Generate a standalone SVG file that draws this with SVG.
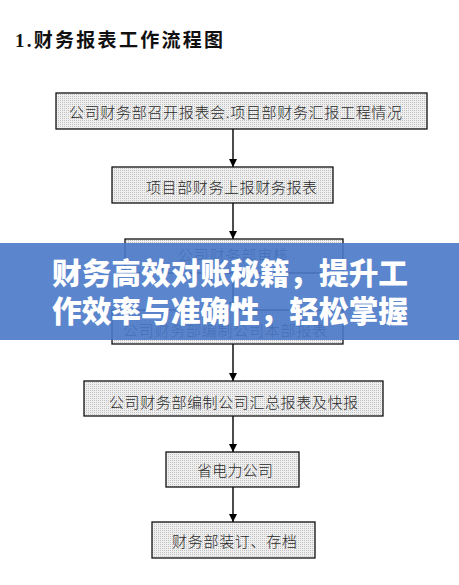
<svg xmlns="http://www.w3.org/2000/svg" width="459" height="585" viewBox="0 0 459 585">
<style>
.box{fill:url(#dots);stroke:#111;stroke-width:1.3}
.lbl{font-family:"Noto Sans CJK SC","Noto Sans",sans-serif;font-weight:300;font-size:15px;fill:#2a2a2a}
.edge{stroke:#000;stroke-width:1.4;fill:none;marker-end:url(#arr)}
.title{font-family:"Liberation Serif","Noto Sans CJK SC",serif;font-weight:bold;font-size:19px;fill:#111}
.ban{font-family:"Noto Sans CJK SC",sans-serif;font-weight:900;font-size:29.7px;fill:#fff}
</style>
<defs>
<pattern id="dots" width="2" height="2" patternUnits="userSpaceOnUse">
<rect width="2" height="2" fill="#efefef"/>
<rect width="1" height="1" fill="#c2c2c2"/>
</pattern>
<marker id="arr" viewBox="0 0 10 10" refX="10" refY="5" markerWidth="8" markerHeight="8" markerUnits="userSpaceOnUse" orient="auto">
<path d="M0,0 L10,5 L0,10 z" fill="#000"/>
</marker>
</defs>
<rect width="459" height="585" fill="#fff"/>
<text class="title" x="15" y="47" textLength="208" lengthAdjust="spacing">1.财务报表工作流程图</text>
<g id="connectors">
<line class="edge" x1="233" y1="129" x2="233" y2="167"/>
<line class="edge" x1="233" y1="203" x2="233" y2="239"/>
<line class="edge" x1="233" y1="273" x2="233" y2="310"/>
<line class="edge" x1="233" y1="344" x2="233" y2="381"/>
<line class="edge" x1="233" y1="416" x2="233" y2="452"/>
<line class="edge" x1="233" y1="487" x2="233" y2="522"/>
</g>
<g id="n1"><rect class="box" x="56" y="93" width="371" height="36"/><text class="lbl" x="69" y="117.5" textLength="333" lengthAdjust="spacing">公司财务部召开报表会.项目部财务汇报工程情况</text></g>
<g id="n2"><rect class="box" x="112" y="167" width="221" height="36"/><text class="lbl" x="146" y="192.5" textLength="171" lengthAdjust="spacing">项目部财务上报财务报表</text></g>
<g id="n3"><rect class="box" x="125" y="239" width="218" height="34"/><text class="lbl" x="178" y="260.5" textLength="110" lengthAdjust="spacing">公司财务部审核</text></g>
<g id="n4"><rect class="box" x="112" y="310" width="231" height="34"/><text class="lbl" x="123" y="335.5" textLength="204" lengthAdjust="spacing">公司财务部编制公司本部报表</text></g>
<g id="n5"><rect class="box" x="84" y="381" width="299" height="35"/><text class="lbl" x="109" y="407.5" textLength="249" lengthAdjust="spacing">公司财务部编制公司汇总报表及快报</text></g>
<g id="n6"><rect class="box" x="166" y="452" width="133" height="35"/><text class="lbl" x="197" y="475.5" textLength="76" lengthAdjust="spacing">省电力公司</text></g>
<g id="n7"><rect class="box" x="152" y="522" width="163" height="36"/><text class="lbl" x="172" y="546.5" textLength="125" lengthAdjust="spacing">财务部装订、存档</text></g>
<g id="banner">
<rect x="0" y="243" width="459" height="97" fill="rgb(73,120,198)" fill-opacity="0.9"/>
<text class="ban" x="52" y="284" textLength="356" lengthAdjust="spacing">财务高效对账秘籍，提升工</text>
<text class="ban" x="52" y="322" textLength="356" lengthAdjust="spacing">作效率与准确性，轻松掌握</text>
</g>
</svg>
